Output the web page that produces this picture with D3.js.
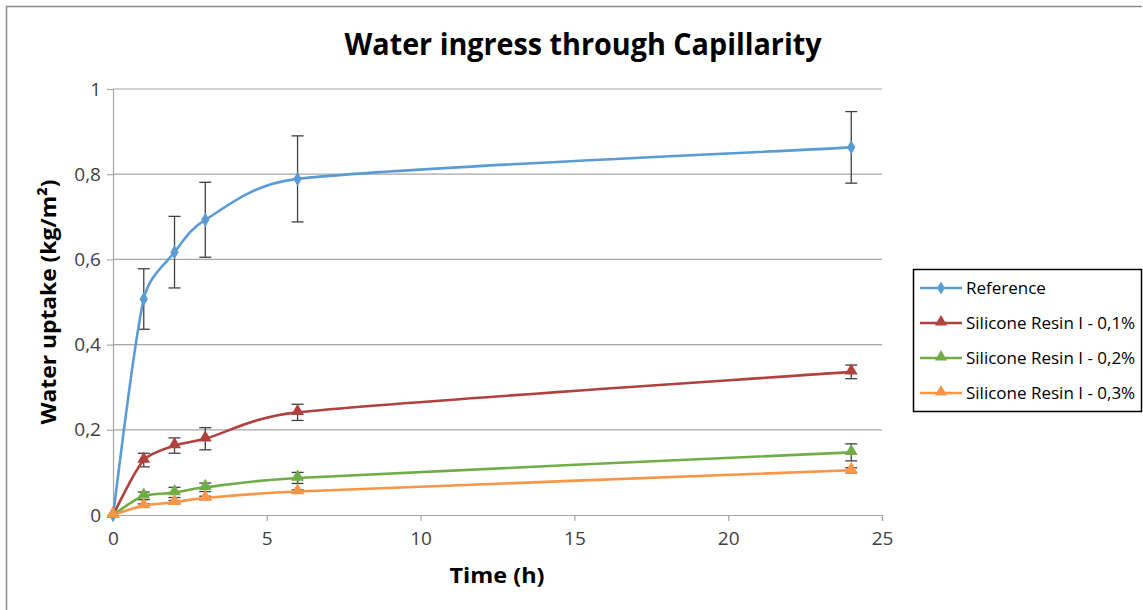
<!DOCTYPE html>
<html>
<head>
<meta charset="utf-8">
<script src="https://cdn.jsdelivr.net/npm/d3@7"></script>
<style>
  html, body { margin: 0; padding: 0; background: #fff; }
  svg { display: block; font-family: "Open Sans", "Noto Sans", sans-serif; }
</style>
</head>
<body>
<svg id="chart" width="1143" height="610"></svg>
<script>
// Capillary water absorption over time (kg/m²), mean with standard deviation
const times = [0, 1, 2, 3, 6, 24];

const seriesNames = [
  "Reference",
  "Silicone Resin I - 0,1%",
  "Silicone Resin I - 0,2%",
  "Silicone Resin I - 0,3%"
];
const seriesColors = ["#5b9bd5", "#b0413e", "#70ad47", "#f79646"];
const seriesSymbols = ["diamond", "triangle", "triangle", "triangle"];

const referenceValues = [0, 0.507, 0.617, 0.693, 0.789, 0.863];
const referenceErrors = [0, 0.071, 0.084, 0.088, 0.101, 0.084];

const resin01Values = [0, 0.129, 0.163, 0.179, 0.241, 0.336];
const resin01Errors = [0, 0.016, 0.018, 0.026, 0.019, 0.016];

const resin02Values = [0, 0.045, 0.053, 0.065, 0.087, 0.147];
const resin02Errors = [0, 0.009, 0.012, 0.010, 0.013, 0.020];

const resin03Values = [0, 0.022, 0.030, 0.040, 0.055, 0.105];
const resin03Errors = [0, 0.004, 0.004, 0.004, 0.004, 0.006];

const xTicks = [0, 5, 10, 15, 20, 25];
const yTicks = [0, 0.2, 0.4, 0.6, 0.8, 1];

const titleText = "Water ingress through Capillarity";
const xTitle = "Time (h)";
const yTitle = "Water uptake (kg/m²)";

const valueSets = [referenceValues, resin01Values, resin02Values, resin03Values];
const errorSets = [referenceErrors, resin01Errors, resin02Errors, resin03Errors];

const series = seriesNames.map((name, i) => ({
  name,
  color: seriesColors[i],
  symbol: seriesSymbols[i],
  points: times.map((t, j) => ({ t, v: valueSets[i][j], e: errorSets[i][j] }))
}));

// Smoothed Bezier curve: tangents from neighbouring points (1/6 tension);
// a control arm that reaches past half of its segment horizontally or
// vertically is shortened, so the curve never doubles back or bulges
// between unevenly spaced points.
function curveSmoothClamped(context) {
  let pts = [];
  return {
    areaStart() {}, areaEnd() {},
    lineStart() { pts = []; },
    point(x, y) { pts.push([+x, +y]); },
    lineEnd() {
      const n = pts.length;
      if (!n) return;
      context.moveTo(pts[0][0], pts[0][1]);
      if (n === 1) return;
      const tan = pts.map((p, i) => {
        const a = pts[Math.max(0, i - 1)], b = pts[Math.min(n - 1, i + 1)];
        return [(b[0] - a[0]) / 6, (b[1] - a[1]) / 6];
      });
      const clampArm = (t, dx, dy) => {
        let s = 1;
        const ax = Math.abs(t[0]), ay = Math.abs(t[1]);
        const mx = 0.5 * Math.abs(dx), my = 0.5 * Math.abs(dy);
        if (ax > mx && ax > 0) s = Math.min(s, mx / ax);
        if (ay > my && ay > 0) s = Math.min(s, my / ay);
        return [t[0] * s, t[1] * s];
      };
      for (let i = 0; i < n - 1; i++) {
        const p = pts[i], q = pts[i + 1];
        const dx = q[0] - p[0], dy = q[1] - p[1];
        const a = clampArm(tan[i], dx, dy), b = clampArm(tan[i + 1], dx, dy);
        context.bezierCurveTo(p[0] + a[0], p[1] + a[1], q[0] - b[0], q[1] - b[1], q[0], q[1]);
      }
    }
  };
}

const svg = d3.select("#chart");
const W = 1143, H = 610;

// chart area frame (top and left edges)
svg.append("path")
  .attr("d", `M6.5,${H} L6.5,6.5 L${W - 1},6.5`)
  .attr("fill", "none")
  .attr("stroke", "#8c8c8c")
  .attr("stroke-width", 1.5);

const plot = { left: 113, right: 882, top: 89, bottom: 515 };

const x = d3.scaleLinear().domain([0, 25]).range([plot.left, plot.right]);
const y = d3.scaleLinear().domain([0, 1]).range([plot.bottom, plot.top]);

const fmt = d => d3.format("~g")(d).replace(".", ",");

// y axis with ticks
const yAxis = svg.append("g")
  .attr("transform", `translate(${plot.left},0)`)
  .call(d3.axisLeft(y).tickValues(yTicks).tickFormat(fmt).tickSize(6).tickPadding(6));
yAxis.select(".domain").attr("stroke", "#a6a6a6").attr("stroke-width", 1.2);
yAxis.selectAll(".tick line").attr("stroke", "#a6a6a6").attr("stroke-width", 1.2);
yAxis.selectAll(".tick text")
  .attr("fill", "#404040").attr("font-size", 19).attr("font-family", "'Open Sans', sans-serif");

// horizontal gridlines
svg.append("g")
  .selectAll("line")
  .data(yTicks.filter(d => d > 0))
  .join("line")
  .attr("x1", plot.left).attr("x2", plot.right)
  .attr("y1", d => y(d)).attr("y2", d => y(d))
  .attr("stroke", "#a6a6a6").attr("stroke-width", 1.2);

// x axis
const xAxis = svg.append("g")
  .attr("transform", `translate(0,${plot.bottom})`)
  .call(d3.axisBottom(x).tickValues(xTicks).tickFormat(fmt).tickSize(6).tickPadding(11));
xAxis.select(".domain").attr("stroke", "#a6a6a6").attr("stroke-width", 1.2);
xAxis.selectAll(".tick line").attr("stroke", "#a6a6a6").attr("stroke-width", 1.2);
xAxis.selectAll(".tick text")
  .attr("fill", "#404040").attr("font-size", 19).attr("font-family", "'Open Sans', sans-serif");

// error bars
const capW = 6;
series.forEach(s => {
  const g = svg.append("g").attr("class", "errors");
  s.points.filter(p => p.e > 0).forEach(p => {
    const cx = x(p.t), y1 = y(p.v + p.e), y2 = y(p.v - p.e);
    g.append("line").attr("x1", cx).attr("x2", cx).attr("y1", y1).attr("y2", y2)
      .attr("stroke", "#404040").attr("stroke-width", 1.3);
    [y1, y2].forEach(yy => g.append("line")
      .attr("x1", cx - capW).attr("x2", cx + capW).attr("y1", yy).attr("y2", yy)
      .attr("stroke", "#404040").attr("stroke-width", 1.3));
  });
});

// smoothed lines
const line = d3.line()
  .x(p => x(p.t))
  .y(p => y(p.v))
  .curve(curveSmoothClamped);

series.forEach(s => {
  svg.append("path")
    .datum(s.points)
    .attr("d", line)
    .attr("fill", "none")
    .attr("stroke", s.color)
    .attr("stroke-width", 2.6)
    .attr("stroke-linejoin", "round");
});

// markers
const symbolPath = (kind, size) =>
  d3.symbol().type(kind === "diamond" ? d3.symbolDiamond : d3.symbolTriangle).size(size)();

series.forEach(s => {
  svg.append("g")
    .selectAll("path")
    .data(s.points)
    .join("path")
    .attr("transform", p => `translate(${x(p.t)},${y(p.v) + (s.symbol === "triangle" ? -1 : 0)})`)
    .attr("d", symbolPath(s.symbol, s.symbol === "diamond" ? 60 : 72))
    .attr("fill", s.color);
});

// titles
svg.append("text")
  .attr("x", 583).attr("y", 55)
  .attr("text-anchor", "middle")
  .attr("font-size", 30).attr("font-weight", "bold")
  .attr("fill", "#000")
  .attr("textLength", 477).attr("lengthAdjust", "spacingAndGlyphs")
  .text(titleText);

svg.append("text")
  .attr("x", 497).attr("y", 583)
  .attr("text-anchor", "middle")
  .attr("font-size", 22).attr("font-weight", "bold")
  .attr("fill", "#000")
  .attr("textLength", 95).attr("lengthAdjust", "spacingAndGlyphs")
  .text(xTitle);

svg.append("text")
  .attr("transform", `translate(56,${(plot.top + plot.bottom) / 2}) rotate(-90)`)
  .attr("text-anchor", "middle")
  .attr("font-size", 22).attr("font-weight", "bold")
  .attr("fill", "#000")
  .attr("textLength", 245).attr("lengthAdjust", "spacingAndGlyphs")
  .text(yTitle);

// legend
const lg = svg.append("g");
lg.append("rect")
  .attr("x", 913.5).attr("y", 269.5)
  .attr("width", 228).attr("height", 142)
  .attr("fill", "#fff").attr("stroke", "#000").attr("stroke-width", 1.5);

series.forEach((s, i) => {
  const cy = 288 + i * 35;
  lg.append("line")
    .attr("x1", 920).attr("x2", 962).attr("y1", cy).attr("y2", cy)
    .attr("stroke", s.color).attr("stroke-width", 2.6);
  lg.append("path")
    .attr("transform", `translate(941,${cy + (s.symbol === "triangle" ? -1 : 0)})`)
    .attr("d", symbolPath(s.symbol, s.symbol === "diamond" ? 50 : 64))
    .attr("fill", s.color);
  lg.append("text")
    .attr("x", 966).attr("y", cy + 6)
    .attr("font-size", 17)
    .attr("fill", "#000")
    .text(s.name);
});
</script>
</body>
</html>
